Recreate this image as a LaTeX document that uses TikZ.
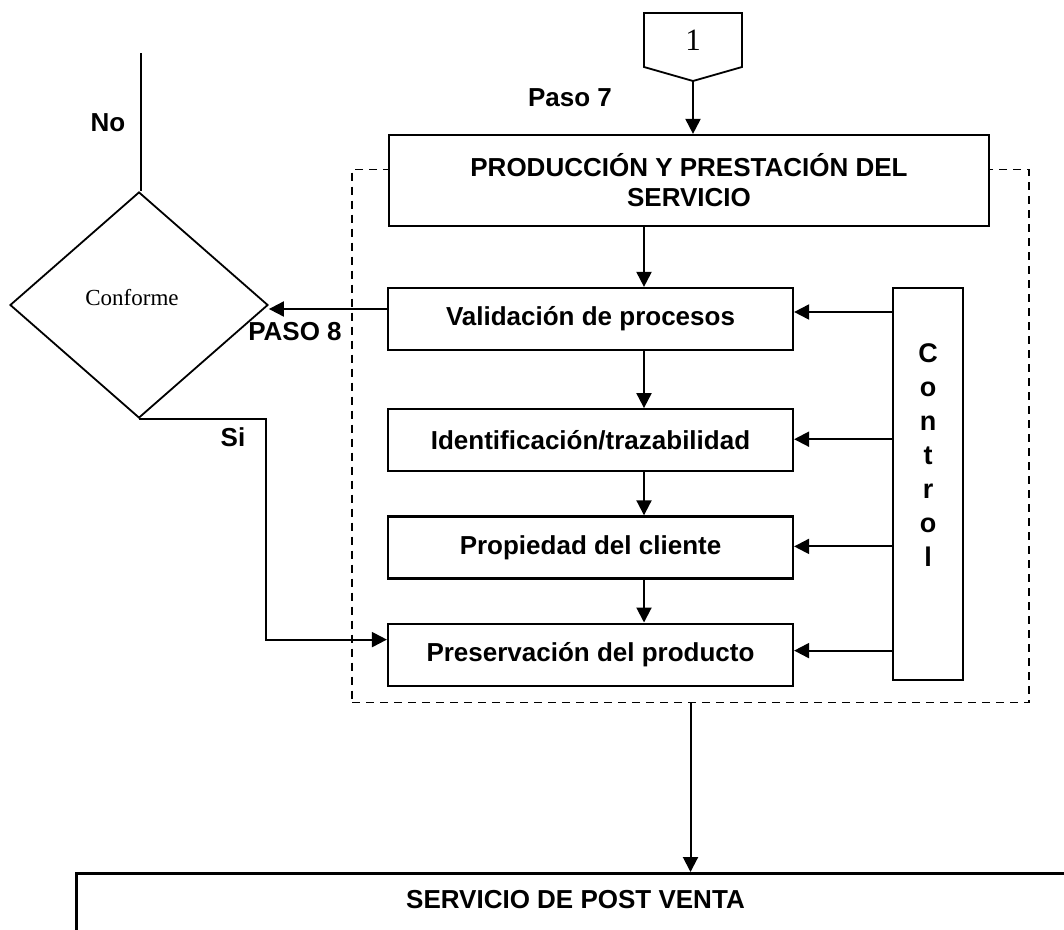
\documentclass[tikz,border=0pt]{standalone}
\usepackage{fontspec}
\setmainfont{Liberation Serif}
\setsansfont{Liberation Sans}
\usetikzlibrary{arrows.meta,positioning,shapes.geometric}

\begin{document}
\begin{tikzpicture}[x=1pt,y=-1pt,
  box/.style={draw,fill=white,line width=2.2pt,minimum width=405pt,minimum height=62pt,inner sep=0pt,font=\sffamily\bfseries\fontsize{26}{30}\selectfont},
  lbl/.style={font=\sffamily\bfseries\fontsize{26}{30}\selectfont,inner sep=0pt},
  arr/.style={-{Triangle[length=15pt,width=15pt]},line width=2pt},
  node distance=43pt
]
\useasboundingbox (0,0) rectangle (1064,929);
% zona punteada
\node[draw,dash pattern=on 8pt off 6pt,line width=1.8pt,minimum width=677pt,minimum height=533pt,inner sep=0pt] (zona) at (690.5,436) {};
% conector 1
\node[font=\fontsize{31}{36}\selectfont,inner sep=0pt] (uno) at (693,40) {1};
\draw[line width=1.8pt] (644,13) -- (742,13) -- (742,67) -- (693,81) coordinate (unotip) -- (644,67) -- cycle;
\node[lbl] (paso7) at (570,98) {Paso 7};
\node[box,minimum width=600pt,minimum height=91pt,align=center] (prod) at (689,180.5) {PRODUCCIÓN Y PRESTACIÓN DEL\\SERVICIO};
\draw[arr] (unotip) -- (unotip |- prod.north);
% pasos
\node[box] (val) at (590.5,319) {Validación de procesos};
\node[box,below=57pt of val] (ide) {Identificación/trazabilidad};
\node[box,below=of ide] (pro) {Propiedad del cliente};
\node[box,below=of pro] (pre) {Preservación del producto};
\draw[arr] ([xshift=53.5pt]val.north |- prod.south) -- ([xshift=53.5pt]val.north);
\foreach \a/\b in {val/ide,ide/pro,pro/pre}
  \draw[arr] ([xshift=53.5pt]\a.south) -- ([xshift=53.5pt]\b.north);
% control
\node[draw,line width=2.2pt,minimum width=70pt,minimum height=392pt,inner sep=0pt] (ctrl) at (928,484) {};
\node[lbl,align=center,font=\sffamily\bfseries\fontsize{27}{34}\selectfont] (ctrltxt) at (928,455) {C\\o\\n\\t\\r\\o\\l};
\foreach \b/\d in {val/7,ide/1,pro/1,pre/4}
  \draw[arr] ([yshift=\d pt]\b.east -| ctrl.west) -- ([yshift=\d pt]\b.east);
% decision
\node[diamond,draw,line width=1.8pt,minimum width=258pt,minimum height=226pt,inner sep=0pt,
  label={[font=\fontsize{23}{27}\selectfont,xshift=-7pt,yshift=7pt]center:Conforme}] (conf) at (139,305) {};
\coordinate (notop) at (141,53);
\draw[line width=1.8pt] (notop) -- (notop |- conf.north);
\node[lbl] (no) at (108,123) {No};
\draw[arr] ([yshift=10pt]val.west) -- ([yshift=10pt]val.west -| conf.east);
\node[lbl] (paso8) at (295,332) {PASO 8};
\draw[arr] (conf.south) -- ++(127,0) |- ([yshift=15pt]pre.west);
\node[lbl] (si) at (233,437) {Si};
% post venta
\node[draw,line width=3pt,minimum width=1100pt,minimum height=150pt,anchor=north west,inner sep=0pt] (post) at (75,872) {};
\node[lbl,anchor=west] (postlbl) at (406,900) {SERVICIO DE POST VENTA};
\draw[arr] (zona.south) -- (zona.south |- post.north);
\end{tikzpicture}
\end{document}
